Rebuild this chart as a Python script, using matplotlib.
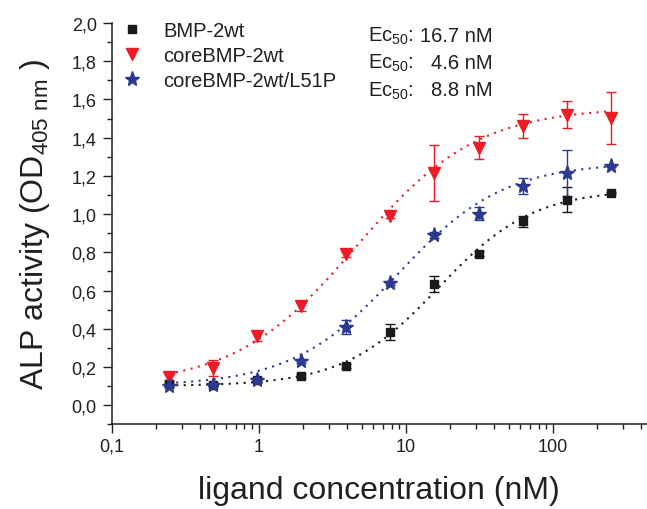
import numpy as np
import matplotlib
matplotlib.use('Agg')
import matplotlib.pyplot as plt
from matplotlib.ticker import FixedLocator, FuncFormatter, LogLocator, MultipleLocator, NullFormatter
from matplotlib.lines import Line2D

# ---------------- data ----------------
conc = [0.244, 0.488, 0.977, 1.95, 3.9, 7.8, 15.6, 31.25, 62.5, 125, 250]

bmp2wt = [0.111, 0.108, 0.131, 0.152, 0.206, 0.383, 0.632, 0.793, 0.963, 1.075, 1.111]
bmp2wt_err = [0.008, 0.008, 0.010, 0.010, 0.012, 0.042, 0.042, 0.012, 0.029, 0.066, 0.005]

core = [0.148, 0.195, 0.362, 0.517, 0.789, 0.990, 1.216, 1.347, 1.460, 1.521, 1.503]
core_err = [0.015, 0.040, 0.026, 0.025, 0.015, 0.012, 0.146, 0.061, 0.062, 0.070, 0.138]

l51p = [0.101, 0.108, 0.131, 0.230, 0.409, 0.639, 0.889, 1.002, 1.146, 1.214, 1.254]
l51p_err = [0.008, 0.008, 0.010, 0.010, 0.035, 0.012, 0.015, 0.035, 0.043, 0.120, 0.005]

# logistic fit parameters (bottom, top, EC50, hill)
fit_bmp2wt = (0.10, 1.13, 16.7, 1.35)
fit_core = (0.10, 1.56, 4.6, 1.05)
fit_l51p = (0.10, 1.27, 8.8, 1.2)

names = ['BMP-2wt', 'coreBMP-2wt', 'coreBMP-2wt/L51P']
ec50_labels = ['16.7 nM', '4.6 nM', '8.8 nM']

x_ticks = [0.1, 1, 10, 100]
x_ticklabels = ['0,1', '1', '10', '100']

# ---------------- style ----------------
plt.rcParams['font.family'] = ['Liberation Sans', 'DejaVu Sans']
plt.rcParams['mathtext.default'] = 'regular'
TXT = '#231f20'
C_BLACK = '#1a1a1a'
C_RED = '#ed1c24'
C_BLUE = '#2b3990'

fig = plt.figure(figsize=(6.47, 5.10), dpi=100)
L, B, T = 111.7 / 647, (510 - 425.3) / 510, 24 / 510
ax = fig.add_axes([L, B, 1 - L, 1 - B - T])


def logistic(x, p):
    a1, a2, x0, h = p
    return a2 + (a1 - a2) / (1 + (x / x0) ** h)


xf = np.logspace(np.log10(conc[0]), np.log10(conc[-1]), 300)
series = [
    (bmp2wt, bmp2wt_err, fit_bmp2wt, C_BLACK, 's', 6.3),
    (core, core_err, fit_core, C_RED, 'v', 9.0),
    (l51p, l51p_err, fit_l51p, C_BLUE, '*', 11.0),
]
handles = []
for y, e, p, c, m, ms in series:
    ax.plot(xf, logistic(xf, p), color=c, lw=1.5, ls=(0, (1.0, 2.6)), zorder=2)
    ax.errorbar(conc, y, yerr=e, fmt='none', ecolor=c, elinewidth=1.0,
                capsize=3.5, capthick=1.0, zorder=3)
    ax.plot(conc, y, ls='none', marker=m, ms=ms, color=c, mec=c, zorder=4)
    handles.append(Line2D([], [], ls='none', marker=m, ms=ms, color=c))

ax.set_xscale('log')
ax.set_xlim(0.1, 437)
ax.set_ylim(-0.1, 2.0)

for s in ['top', 'right']:
    ax.spines[s].set_visible(False)
for s in ['left', 'bottom']:
    ax.spines[s].set_linewidth(1.1)
    ax.spines[s].set_color(TXT)

ax.xaxis.set_major_locator(FixedLocator(x_ticks))
ax.xaxis.set_major_formatter(FuncFormatter(lambda v, pos: x_ticklabels[x_ticks.index(v)] if v in x_ticks else ''))
ax.xaxis.set_minor_locator(LogLocator(base=10, subs=np.arange(2, 10)))
ax.xaxis.set_minor_formatter(NullFormatter())
ax.yaxis.set_major_locator(FixedLocator(np.round(np.arange(0, 2.01, 0.2), 1)))
ax.yaxis.set_major_formatter(FuncFormatter(lambda v, pos: f'{v:.1f}'.replace('.', ',')))
ax.yaxis.set_minor_locator(MultipleLocator(0.1))

ax.tick_params(which='major', direction='out', length=6.8, width=1.0, color=TXT,
               labelsize=13, labelcolor=TXT)
ax.tick_params(which='minor', direction='out', length=3.4, width=1.0, color=TXT)
ax.tick_params(axis='x', which='major', pad=3)
ax.tick_params(axis='y', which='major', pad=4)

ax.set_xlabel('ligand concentration (nM)', fontsize=23, color=TXT, labelpad=14.5)
ax.set_ylabel('ALP activity (OD$_{405\\ nm}$ )', fontsize=23, color=TXT, labelpad=14)

leg = ax.legend(handles, names, loc='upper left', bbox_to_anchor=(122 / 647, 1 - 22 / 510),
                bbox_transform=fig.transFigure, frameon=False, fontsize=14.5,
                handlelength=1.0, handletextpad=1.05, labelspacing=0.3,
                borderpad=0, borderaxespad=0)
for t in leg.get_texts():
    t.set_color(TXT)

for i, lab in enumerate(ec50_labels):
    yb = 1 - (41.5 + 27.5 * i) / 510
    fig.text(368 / 647, yb, 'Ec$_{50}$:', fontsize=14.5, color=TXT, va='baseline', ha='left')
    fig.text(492.7 / 647, yb, lab, fontsize=14.5, color=TXT, va='baseline', ha='right')

fig.savefig('out.png', dpi=100)
